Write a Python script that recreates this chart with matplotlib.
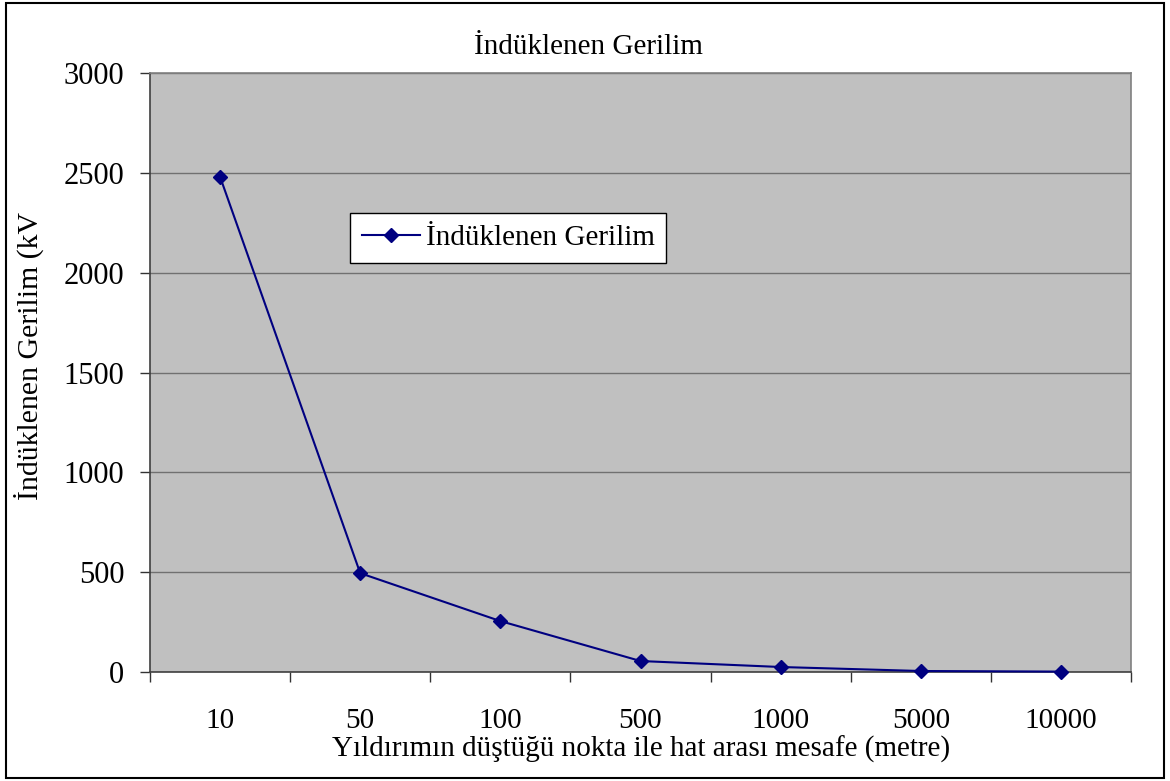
import matplotlib
matplotlib.use('Agg')
import matplotlib.pyplot as plt
from matplotlib.patches import Rectangle

plt.rcParams['font.family'] = ['Liberation Serif', 'DejaVu Serif']

mesafe = ['10', '50', '100', '500', '1000', '5000', '10000']
gerilim = [2480, 495, 255, 55, 25, 5, 2]
y_ticks = [0, 500, 1000, 1500, 2000, 2500, 3000]

navy = '#000080'

fig = plt.figure(figsize=(11.7, 7.81), dpi=100)
ax = fig.add_axes([150 / 1170, 1 - 672 / 781, 981 / 1170, 599 / 781])
ax.set_facecolor('#c0c0c0')

x = list(range(len(mesafe)))
ax.plot(x, gerilim, color=navy, lw=1.5, marker='D', markersize=7,
        markerfacecolor=navy, markeredgecolor=navy, label='İndüklenen Gerilim',
        zorder=3, clip_on=False)

ax.set_xlim(-0.5, len(mesafe) - 0.5)
ax.set_ylim(0, 3000)
ax.set_yticks(y_ticks)
ax.set_yticklabels([str(v) for v in y_ticks])
ax.set_xticks(x)
ax.set_xticklabels(mesafe)
ax.set_xticks([i - 0.5 for i in range(len(mesafe) + 1)], minor=True)
ax.tick_params(axis='x', which='major', length=0, pad=26, labelsize=21)
ax.tick_params(axis='x', which='minor', length=7.5, width=1, color='#333333')
ax.tick_params(axis='y', length=7.5, width=1, color='#333333', pad=11, labelsize=22)

ax.grid(axis='y', color='#707070', lw=1.0)
ax.set_axisbelow(True)
for side in ['top', 'right']:
    ax.spines[side].set_color('#808080')
for side in ['left', 'bottom']:
    ax.spines[side].set_color('#404040')
for s in ax.spines.values():
    s.set_linewidth(1.2)

fig.text(588 / 1170, 1 - 47 / 781, 'İndüklenen Gerilim', ha='center', va='center', fontsize=21)
fig.text(641 / 1170, 1 - 749 / 781, 'Yıldırımın düştüğü nokta ile hat arası mesafe (metre)',
         ha='center', va='center', fontsize=21)

# y label, cut off at the top like the original chart area
ylab = fig.text(29 / 1170, 1 - 500 / 781, 'İndüklenen Gerilim (kV)', rotation=90,
                ha='center', va='bottom', fontsize=21.5)
clip = Rectangle((0, 0), 1, 1 - 212 / 781, transform=fig.transFigure, visible=False)
fig.add_artist(clip)
ylab.set_clip_path(clip)

leg = ax.legend(loc='upper left', bbox_to_anchor=((350 - 150) / 981, (672 - 213) / 599),
                frameon=True, fancybox=False, fontsize=21, borderpad=0.4,
                handlelength=2.0, handletextpad=0.2, borderaxespad=0)
leg.get_frame().set_edgecolor('black')
leg.get_frame().set_linewidth(1.0)
leg.get_frame().set_facecolor('white')
leg.get_frame().set_alpha(1)

# outer frame of the chart
fig.add_artist(Rectangle((6 / 1170, 3 / 781), 1158 / 1170, 775 / 781,
                         transform=fig.transFigure, fill=False, edgecolor='black', lw=1.5))

fig.savefig('out.png', dpi=100)
